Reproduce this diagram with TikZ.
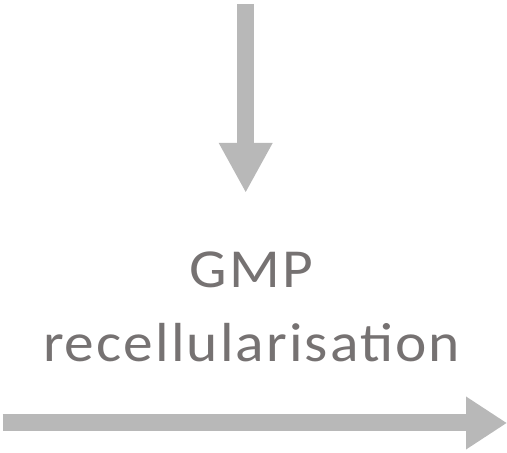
\documentclass[tikz,border=0pt]{standalone}
\usepackage{fontspec}
\setmainfont{Carlito}
\usetikzlibrary{arrows.meta}

\definecolor{arrowgrey}{RGB}{184,184,184}
\definecolor{textgrey}{RGB}{118,114,114}

\tikzset{
    blockarrow/.style={draw=arrowgrey, line width=17pt,
        -{Triangle[width=50pt, length=#1, fill=arrowgrey]}},
    label/.style={text=textgrey, align=center, inner sep=0pt,
        xscale=1.08, transform shape,
        font=\fontsize{55}{74}\selectfont\addfontfeature{LetterSpace=3.5}}
}

\begin{document}
\begin{tikzpicture}[x=1pt, y=1pt]
            \useasboundingbox (0, 0) rectangle (507, 453);
            \coordinate (intop) at (245.7, 449);
            \coordinate (intip) at (245.7, 260);
            \draw[blockarrow=50pt] (intop) -- (intip);
            \node[label, anchor=north] (step) at (251.5, 201) {GMP\\recellularisation};
            \coordinate (flowstart) at (2.7, 30);
            \coordinate (flowend) at (507, 30);
            \draw[blockarrow=41pt] (flowstart) -- (flowend);
        \end{tikzpicture}
\end{document}
